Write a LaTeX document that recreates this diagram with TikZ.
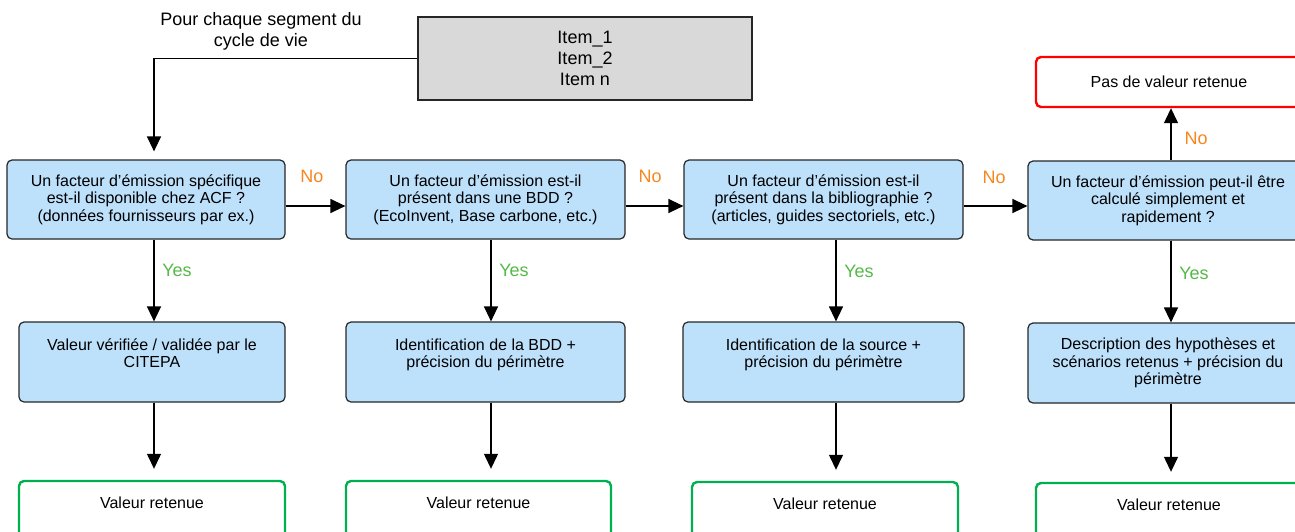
\documentclass[tikz,border=0pt]{standalone}
\usepackage{fontspec}
\setmainfont{Liberation Sans}
\usetikzlibrary{positioning,arrows.meta}
\definecolor{boxblue}{RGB}{189,224,251}
\definecolor{itemgray}{RGB}{217,217,217}
\definecolor{noorange}{RGB}{247,134,30}
\definecolor{yesgreen}{RGB}{84,185,72}
\definecolor{keepgreen}{RGB}{0,176,80}
\tikzset{
blk/.style={draw=black!85, line width=1.2pt, rounded corners=5pt, fill=boxblue, align=center, inner sep=2pt, font=\fontsize{16}{17.5}\selectfont},
askbox/.style={blk, minimum height=79pt},
stepbox/.style={blk, minimum height=80pt},
keepbox/.style={blk, fill=white, draw=keepgreen, line width=2.4pt, minimum height=60pt},
nonebox/.style={blk, fill=white, draw=red, line width=2.4pt, minimum height=50pt},
itembox/.style={draw=black!85, line width=1.2pt, fill=itemgray, align=center, font=\fontsize{18}{21}\selectfont},
arr/.style={line width=1.3pt, -{Triangle[width=14pt,length=15pt]}},
nolbl/.style={text=noorange, font=\fontsize{18}{21}\selectfont},
yeslbl/.style={text=yesgreen, font=\fontsize{18}{21}\selectfont}
}

\begin{document}
\begin{tikzpicture}[x=1pt, y=-1pt]
	\useasboundingbox (0,0) rectangle (1295,531);
	\node[itembox, minimum width=334pt, minimum height=83pt] (items) at (585,58.5) {Item\_1\\Item\_2\\Item n};
	\node[align=center, font=\fontsize{18}{21}\selectfont] (seg) at (261,31) {Pour chaque segment du\\cycle de vie};
	\node[askbox, minimum width=278pt] (q1) at (146,199.5) {Un facteur d’émission spécifique\\est-il disponible chez ACF ?\\(données fournisseurs par ex.)};
	\node[askbox, minimum width=279pt] (q2) at (485.5,199.5) {Un facteur d’émission est-il\\présent dans une BDD ?\\(EcoInvent, Base carbone, etc.)};
	\node[askbox, minimum width=279pt] (q3) at (823.5,199.5) {Un facteur d’émission est-il\\présent dans la bibliographie ?\\(articles, guides sectoriels, etc.)};
	\node[askbox, minimum width=280pt] (q4) at (1168,200.5) {Un facteur d’émission peut-il être\\calculé simplement et\\rapidement ?};
	\node[nonebox, minimum width=266pt] (none) at (1169,82) {Pas de valeur retenue};
	\node[stepbox, minimum width=266pt] (v1) at (152,362) {Valeur vérifiée / validée par le\\CITEPA\\~};
	\node[stepbox, minimum width=279pt] (v2) at (485.5,362) {Identification de la BDD +\\précision du périmètre\\~};
	\node[stepbox, minimum width=281pt] (v3) at (823.5,362) {Identification de la source +\\précision du périmètre\\~};
	\node[stepbox, minimum width=280pt] (v4) at (1168,363) {Description des hypothèses et\\scénarios retenus + précision du\\périmètre};
	\node[keepbox, minimum width=266pt] (g1) at (152,511) {Valeur retenue\\~};
	\node[keepbox, minimum width=265pt] (g2) at (478.5,511) {Valeur retenue\\~};
	\node[keepbox, minimum width=266pt] (g3) at (825,512) {Valeur retenue\\~};
	\node[keepbox, minimum width=266pt] (g4) at (1169,513) {Valeur retenue\\~};
	\coordinate (c1) at (154,0);
	\coordinate (c2) at (491,0);
	\coordinate (c3) at (836,0);
	\coordinate (c4) at (1171,0);
	\coordinate (r1) at (0,206);
	\draw[arr, shorten >=8pt] (items.west) -| (q1.north -| c1);
	\draw[arr] (q1.east |- r1) -- (q2.west |- r1);
	\draw[arr] (q2.east |- r1) -- (q3.west |- r1);
	\draw[arr] (q3.east |- r1) -- (q4.west |- r1);
	\draw[arr] (q4.north -| c4) -- (none.south -| c4);
	\draw[arr] (q1.south -| c1) -- (v1.north -| c1);
	\draw[arr] (q2.south -| c2) -- (v2.north -| c2);
	\draw[arr] (q3.south -| c3) -- (v3.north -| c3);
	\draw[arr] (q4.south -| c4) -- (v4.north -| c4);
	\draw[arr, shorten >=11pt] (v1.south -| c1) -- (g1.north -| c1);
	\draw[arr, shorten >=11pt] (v2.south -| c2) -- (g2.north -| c2);
	\draw[arr, shorten >=11pt] (v3.south -| c3) -- (g3.north -| c3);
	\draw[arr, shorten >=10pt] (v4.south -| c4) -- (g4.north -| c4);
	\node[nolbl] (no1) at (312,176) {No};
	\node[nolbl] (no2) at (650,176) {No};
	\node[nolbl] (no3) at (994,177) {No};
	\node[nolbl] (no4) at (1196,138) {No};
	\node[yeslbl] (yes1) at (177,270) {Yes};
	\node[yeslbl] (yes2) at (514,270) {Yes};
	\node[yeslbl] (yes3) at (859,271) {Yes};
	\node[yeslbl] (yes4) at (1194,273) {Yes};
\end{tikzpicture}
\end{document}
